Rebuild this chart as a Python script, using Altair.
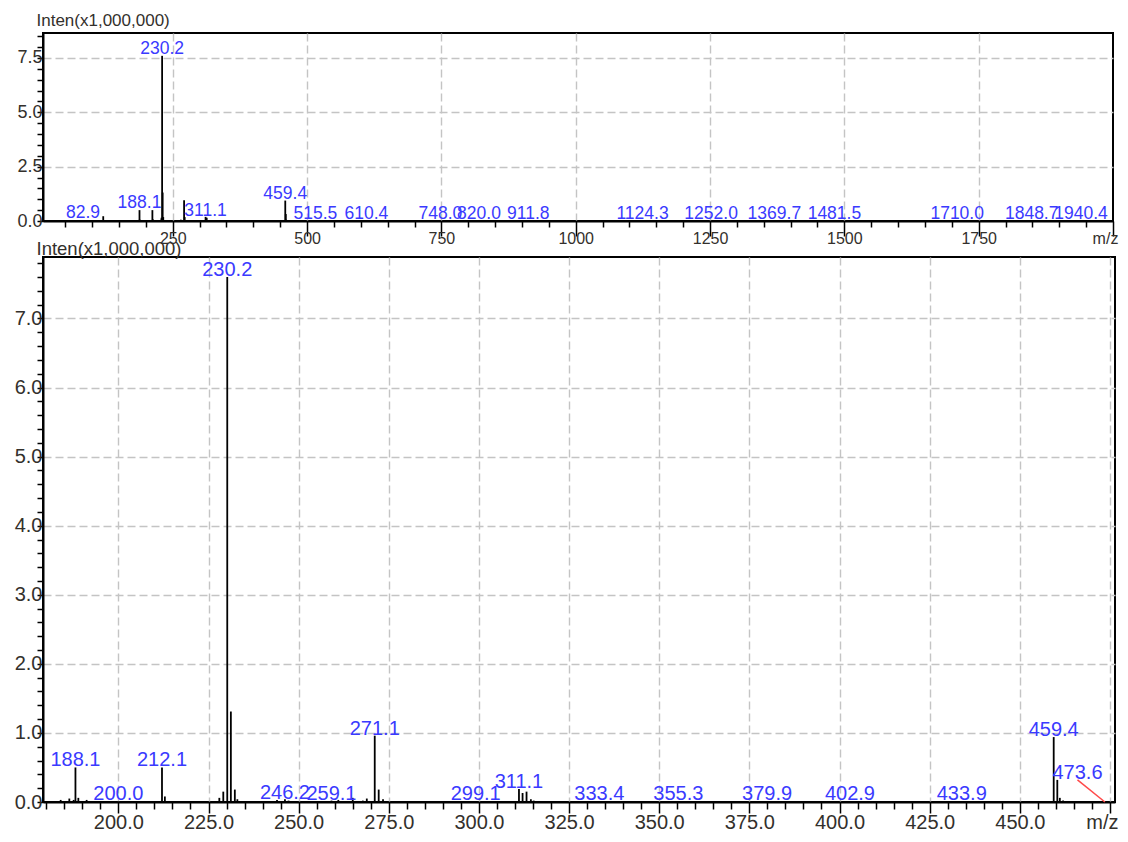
import altair as alt
import pandas as pd

# ---------------- data (m/z, intensity in x1,000,000) ----------------
spec_mz = [82.9, 120.6, 184.0, 186.4, 187.6, 188.1, 188.9, 191.2, 200.0,
           212.1, 212.9, 228.0, 229.1, 230.2, 231.2, 232.3, 233.0,
           244.0, 246.2, 247.2, 259.1, 261.0, 265.0, 267.8, 268.9, 271.1, 272.2, 273.4,
           299.1, 311.1, 312.1, 313.2, 314.4, 315.2, 333.4, 355.3, 379.9,
           402.9, 433.9, 459.4, 460.4, 461.1, 462.0, 473.6,
           515.5, 610.4, 748.0, 820.0, 911.8, 1124.3, 1252.0, 1369.7, 1481.5,
           1710.0, 1848.7, 1940.4]
spec_int = [0.03, 0.22, 0.03, 0.05, 0.03, 0.50, 0.06, 0.03, 0.01,
            0.50, 0.08, 0.06, 0.15, 7.60, 1.31, 0.18, 0.04,
            0.03, 0.04, 0.02, 0.02, 0.03, 0.06, 0.02, 0.05, 0.96, 0.18, 0.04,
            0.01, 0.19, 0.13, 0.15, 0.04, 0.02, 0.01, 0.01, 0.01,
            0.01, 0.01, 0.94, 0.32, 0.06, 0.02, 0.01,
            0.02, 0.01, 0.01, 0.01, 0.01, 0.01, 0.01, 0.01, 0.01,
            0.01, 0.01, 0.01]

top_label_text = ["82.9", "188.1", "230.2", "311.1", "459.4", "515.5", "610.4",
                  "748.0", "820.0", "911.8", "1124.3", "1252.0", "1369.7",
                  "1481.5", "1710.0", "1848.7", "1940.4"]
top_label_mz = [82.9, 188.1, 230.2, 311.1, 459.4, 515.5, 610.4, 748.0, 820.0,
                911.8, 1124.3, 1252.0, 1369.7, 1481.5, 1710.0, 1848.7, 1940.4]
top_label_int = [0.03, 0.50, 7.60, 0.15, 0.94, 0.02, 0.01, 0.01, 0.01,
                 0.01, 0.01, 0.01, 0.01, 0.01, 0.01, 0.01, 0.01]

bottom_label_text = ["188.1", "200.0", "212.1", "230.2", "246.2", "259.1", "271.1",
                     "299.1", "311.1", "333.4", "355.3", "379.9", "402.9", "433.9",
                     "459.4", "473.6"]
bottom_label_mz = [188.1, 200.0, 212.1, 230.2, 246.2, 259.1, 271.1, 299.1, 311.1,
                   333.4, 355.3, 379.9, 402.9, 433.9, 459.4, 466.0]
bottom_label_int = [0.50, 0.01, 0.50, 7.60, 0.03, 0.01, 0.96, 0.01, 0.19,
                    0.01, 0.01, 0.01, 0.01, 0.01, 0.94, 0.32]

# leader line from the displaced 473.6 label to its peak
leader_from_mz = [466.0]
leader_from_int = [0.32]
leader_to_mz = [473.6]
leader_to_int = [0.0]

top_x_domain = [8.5, 2000]
top_y_domain = [0, 8.65]
bottom_x_domain = [179.1, 476.4]
bottom_y_domain = [0, 7.89]

top_x_ticks = list(range(50, 2001, 50))
top_y_ticks = [i * 0.5 for i in range(0, 18)]
bottom_x_ticks = list(range(180, 476, 5))
bottom_y_ticks = [round(i * 0.2, 1) for i in range(0, 40)]

Y_TITLE = "Inten(x1,000,000)"
FONT = "Liberation Sans"
LABEL_BLUE = "#3a3aff"
TEXT_DARK = "#33302c"

spec_df = pd.DataFrame({"mz": spec_mz, "inten": spec_int})
top_lab_df = pd.DataFrame({"mz": top_label_mz, "inten": top_label_int, "label": top_label_text})
bot_spec_df = spec_df[(spec_df.mz > bottom_x_domain[0]) & (spec_df.mz < bottom_x_domain[1])]
bot_lab_df = pd.DataFrame({"mz": bottom_label_mz, "inten": bottom_label_int, "label": bottom_label_text})
leader_df = pd.DataFrame({"mz": leader_from_mz, "inten": leader_from_int,
                          "mz2": leader_to_mz, "inten2": leader_to_int})


def common_axis(fs):
    return dict(labelFont=FONT, labelFontSize=fs, labelColor=TEXT_DARK,
                labelOverlap=False, labelFlush=False,
                domainColor="black", domainWidth=2, tickColor="black", tickWidth=1.5,
                gridColor="#c4c4c4", gridDash=[8, 4], gridWidth=1.4)


# ---------------- top panel ----------------
x_top = alt.X("mz:Q", scale=alt.Scale(domain=top_x_domain, nice=False, zero=False),
              axis=alt.Axis(values=top_x_ticks, title=None,
                            labelExpr="datum.value == 2000 ? 'm/z' : (datum.value % 250 == 0 ? format(datum.value, 'd') : '')",
                            tickSize={"condition": {"test": "datum.value % 250 == 0", "value": 15}, "value": 6},
                            gridOpacity={"condition": {"test": "datum.value % 250 == 0 && datum.value < 2000", "value": 1}, "value": 0},
                            labelOffset={"condition": {"test": "datum.value == 2000", "value": -8}, "value": 0},
                            labelPadding=-6,
                            **common_axis(16)))
y_top = alt.Y("inten:Q", scale=alt.Scale(domain=top_y_domain, nice=False, zero=True),
              axis=alt.Axis(values=top_y_ticks, title=Y_TITLE, titleAngle=0, titleAlign="left",
                            titleBaseline="alphabetic", titleX=-7, titleY=-8,
                            titleFont=FONT, titleFontSize=17, titleFontWeight="normal", titleColor=TEXT_DARK,
                            labelExpr="abs(datum.value / 2.5 - round(datum.value / 2.5)) < 0.001 ? format(datum.value, '.1f') : ''",
                            tickSize=6,
                            gridOpacity={"condition": {"test": "abs(datum.value / 2.5 - round(datum.value / 2.5)) < 0.001 && datum.value > 0", "value": 1}, "value": 0},
                            labelPadding=-5,
                            **common_axis(18)))

top = alt.layer(
    alt.Chart(spec_df).mark_rule(color="black", strokeWidth=1.8).encode(y2=alt.datum(0)),
    alt.Chart(top_lab_df).mark_text(font=FONT, fontSize=17.5, color=LABEL_BLUE,
                                    baseline="alphabetic", align="center", dy=-2).encode(text="label:N"),
).encode(x=x_top, y=y_top).properties(width=1070, height=188)

# ---------------- bottom panel ----------------
x_bot = alt.X("mz:Q", scale=alt.Scale(domain=bottom_x_domain, nice=False, zero=False),
              axis=alt.Axis(values=bottom_x_ticks, title=None,
                            labelExpr="datum.value == 475 ? 'm/z' : (datum.value % 25 == 0 ? format(datum.value, '.1f') : '')",
                            tickSize={"condition": {"test": "datum.value % 25 == 0", "value": 11}, "value": 7},
                            gridOpacity={"condition": {"test": "datum.value % 25 == 0", "value": 1}, "value": 0},
                            labelOffset={"condition": {"test": "datum.value == 475", "value": -8}, "value": 0},
                            labelPadding=-1,
                            **common_axis(20)))
y_bot = alt.Y("inten:Q", scale=alt.Scale(domain=bottom_y_domain, nice=False, zero=True),
              axis=alt.Axis(values=bottom_y_ticks, title=Y_TITLE, titleAngle=0, titleAlign="left",
                            titleBaseline="alphabetic", titleX=-7, titleY=-3,
                            titleFont=FONT, titleFontSize=18.5, titleFontWeight="normal", titleColor=TEXT_DARK,
                            labelExpr="abs(datum.value - round(datum.value)) < 0.001 ? format(datum.value, '.1f') : ''",
                            tickSize=6,
                            gridOpacity={"condition": {"test": "abs(datum.value - round(datum.value)) < 0.001 && datum.value > 0", "value": 1}, "value": 0},
                            labelPadding=-5,
                            **common_axis(20)))

bottom = alt.layer(
    alt.Chart(bot_spec_df).mark_rule(color="black", strokeWidth=1.8).encode(y2=alt.datum(0)),
    alt.Chart(leader_df).mark_rule(color="#ff4a4a", strokeWidth=1.5).encode(x2="mz2:Q", y2="inten2:Q"),
    alt.Chart(bot_lab_df).mark_text(font=FONT, fontSize=20, color=LABEL_BLUE,
                                    baseline="alphabetic", align="center", dy=-1).encode(text="label:N"),
).encode(x=x_bot, y=y_bot).properties(width=1072, height=545)

chart = alt.vconcat(top, bottom, spacing=36).resolve_scale(
    x="independent", y="independent"
).properties(
    bounds="flush",
    padding={"left": 5, "top": 2, "right": 0, "bottom": 0},
    background="white",
).configure_view(stroke="black", strokeWidth=2)

chart.save("out.html", embed_options={"renderer": "svg", "actions": False})
